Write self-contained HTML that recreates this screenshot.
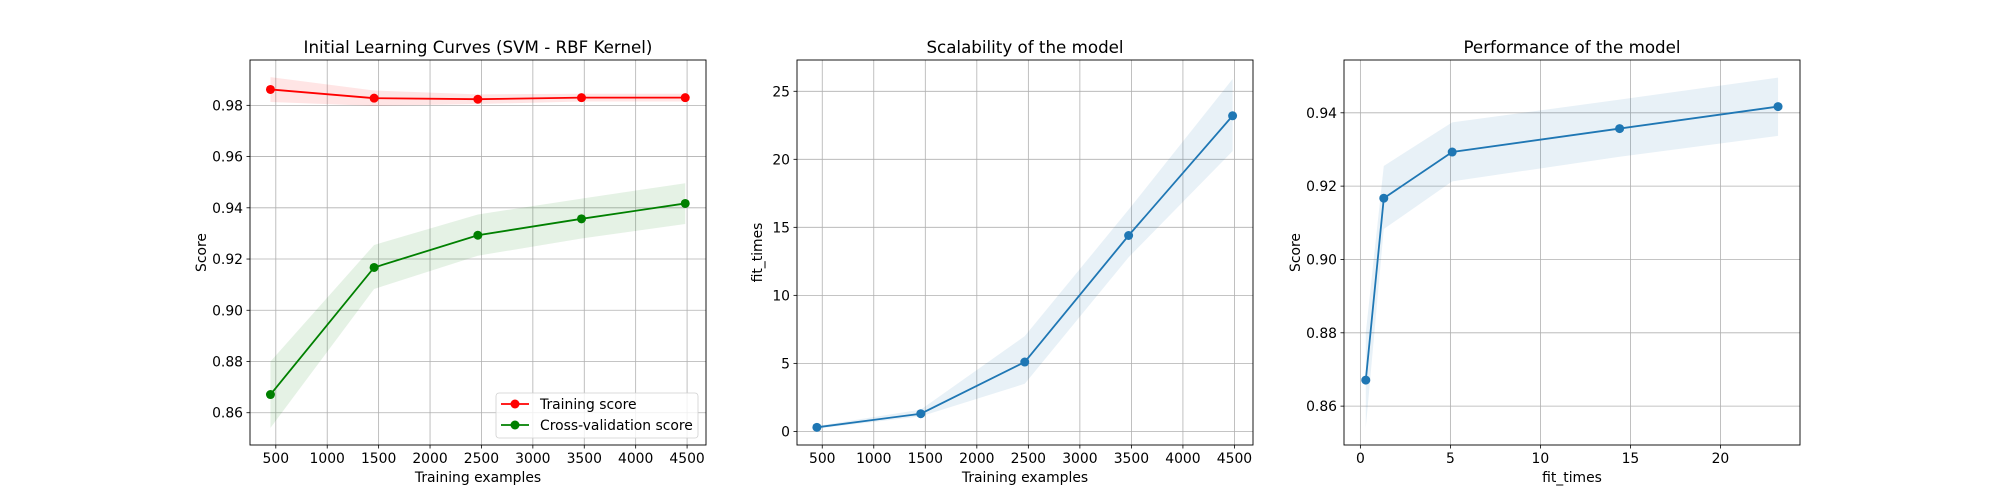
<!DOCTYPE html>
<html><head><meta charset="utf-8"><style>
html,body{margin:0;padding:0;background:#fff}
svg{display:block;font-family:"DejaVu Sans","Liberation Sans",sans-serif}
</style></head><body>
<svg id="fig" width="2000" height="500" viewBox="0 0 2000 500" xmlns="http://www.w3.org/2000/svg"></svg>
<script>
const trainSizes = [448, 1456, 2465, 3473, 4482];
const trainMean = [0.9862, 0.9828, 0.9824, 0.9830, 0.9830];
const trainLow = [0.9813, 0.9798, 0.9805, 0.9815, 0.9815];
const trainHigh = [0.9910, 0.9858, 0.9843, 0.9845, 0.9845];
const cvMean = [0.8671, 0.9167, 0.9293, 0.9357, 0.9417];
const cvLow = [0.8541, 0.9083, 0.9213, 0.9280, 0.9337];
const cvHigh = [0.8800, 0.9255, 0.9374, 0.9436, 0.9496];
const fitMean = [0.3, 1.3, 5.1, 14.4, 23.2];
const fitLow = [0.2, 1.1, 3.5, 12.8, 20.6];
const fitHigh = [0.4, 1.6, 7.0, 16.3, 25.9];
const xTicksExamples = [500, 1000, 1500, 2000, 2500, 3000, 3500, 4000, 4500];
const yTicksScore1 = ["0.86", "0.88", "0.90", "0.92", "0.94", "0.96", "0.98"];
const yTicksFit = [0, 5, 10, 15, 20, 25];
const yTicksScore3 = ["0.86", "0.88", "0.90", "0.92", "0.94"];
const xTicksFit = [0, 5, 10, 15, 20];

const NS = "http://www.w3.org/2000/svg";
const fig = document.getElementById('fig');
function mk(tag, attrs, parent, text){
  const e = document.createElementNS(NS, tag);
  for (const k in attrs) e.setAttribute(k, attrs[k]);
  if (text !== undefined) e.textContent = text;
  (parent || fig).appendChild(e);
  return e;
}
function lin(d0, d1, r0, r1){ return v => r0 + (v - d0) * (r1 - r0) / (d1 - d0); }

function panel(cfg){
  const g = mk('g', {});
  
  
  const {L, R, T, B} = cfg;
  const sx = lin(cfg.xlim[0], cfg.xlim[1], L, R);
  const sy = lin(cfg.ylim[0], cfg.ylim[1], B, T);
  cfg.xticks.forEach(t => {
    const x = sx(+t);
    const gl = mk('line', {x1:x, x2:x, y1:T, y2:B, stroke:'#b0b0b0', 'stroke-width':0.8}, g);
    
    
    mk('line', {x1:x, x2:x, y1:B, y2:B+3.5, stroke:'#000', 'stroke-width':0.8}, g);
    const tl = mk('text', {x:x, y:B+18, 'font-size':13.9, 'text-anchor':'middle', fill:'#000'}, g, String(t));
    
    
  });
  cfg.yticks.forEach(t => {
    const y = sy(+t);
    const gl = mk('line', {x1:L, x2:R, y1:y, y2:y, stroke:'#b0b0b0', 'stroke-width':0.8}, g);
    
    
    mk('line', {x1:L-3.5, x2:L, y1:y, y2:y, stroke:'#000', 'stroke-width':0.8}, g);
    const tl = mk('text', {x:L-7, y:y+5, 'font-size':13.9, 'text-anchor':'end', fill:'#000'}, g, String(t));
    
    
  });
  cfg.series.forEach(s => {
    let d = '';
    s.x.forEach((v,i) => { d += (i?'L':'M') + sx(v) + ',' + sy(s.hi[i]); });
    for (let i = s.x.length-1; i >= 0; i--) d += 'L' + sx(s.x[i]) + ',' + sy(s.lo[i]);
    const band = mk('path', {d: d+'Z', fill:s.color, 'fill-opacity':s.alpha, stroke:'none'}, g);
    
    
    const pts = s.x.map((v,i) => sx(v) + ',' + sy(s.y[i])).join(' ');
    const line = mk('polyline', {points: pts, fill:'none', stroke:s.color, 'stroke-width':1.8}, g);
    
    
    s.x.forEach((v,i) => {
      const c = mk('circle', {cx:sx(v), cy:sy(s.y[i]), r:4.5, fill:s.color}, g);
      
      
    });
  });
  const frame = mk('rect', {x:L, y:T, width:R-L, height:B-T, fill:'none', stroke:'#000', 'stroke-width':0.9}, g);
  
  
  const title = mk('text', {x:(L+R)/2, y:T-7, 'font-size':16.7, 'text-anchor':'middle', fill:'#000'}, g, cfg.title);
  
  
  const xl = mk('text', {x:(L+R)/2, y:B+37, 'font-size':13.9, 'text-anchor':'middle', fill:'#000'}, g, cfg.xlabel);
  
  
  const yx = L - cfg.ylabOff, yy = (T+B)/2;
  const yl = mk('text', {x:yx, y:yy, 'font-size':13.9, 'text-anchor':'middle', fill:'#000', transform:`rotate(-90 ${yx} ${yy})`}, g, cfg.ylabel);
  
  
  return g;
}

panel({name:'learning-curve-panel', L:250, R:706, T:60, B:445, xlim:[249,4684], ylim:[0.8474,0.9977],
  xticks:xTicksExamples, yticks:yTicksScore1, title:'Initial Learning Curves (SVM - RBF Kernel)',
  xlabel:'Training examples', ylabel:'Score', ylabOff:44,
  series:[
    {name:'training-score', x:trainSizes, y:trainMean, lo:trainLow, hi:trainHigh, color:'#ff0000', alpha:0.1},
    {name:'cv-score', x:trainSizes, y:cvMean, lo:cvLow, hi:cvHigh, color:'#008000', alpha:0.1}
  ]});
panel({name:'scalability-panel', L:797, R:1253, T:60, B:445, xlim:[255,4680], ylim:[-1.0, 27.3],
  xticks:xTicksExamples, yticks:yTicksFit, title:'Scalability of the model',
  xlabel:'Training examples', ylabel:'fit_times', ylabOff:35,
  series:[{name:'fit-times', x:trainSizes, y:fitMean, lo:fitLow, hi:fitHigh, color:'#1f77b4', alpha:0.1}]});
panel({name:'performance-panel', L:1344, R:1800, T:60, B:445, xlim:[-0.91,24.42], ylim:[0.8494,0.9544],
  xticks:xTicksFit, yticks:yTicksScore3, title:'Performance of the model',
  xlabel:'fit_times', ylabel:'Score', ylabOff:44,
  series:[{name:'performance', x:fitMean, y:cvMean, lo:cvLow, hi:cvHigh, color:'#1f77b4', alpha:0.1}]});

const lg = mk('g', {});


mk('rect', {x:496, y:393, width:202, height:45, rx:3, fill:'#fff', 'fill-opacity':0.8, stroke:'#d0d0d0', 'stroke-width':0.8}, lg);
[['Training score','#ff0000',404],['Cross-validation score','#008000',425]].forEach(([t,c,y]) => {
  const e = mk('g', {}, lg);
  
  
  mk('line', {x1:501, x2:529, y1:y, y2:y, stroke:c, 'stroke-width':1.8}, e);
  mk('circle', {cx:515, cy:y, r:4.5, fill:c}, e);
  mk('text', {x:540, y:y+5, 'font-size':13.9, fill:'#000'}, e, t);
});
</script>
</body></html>
